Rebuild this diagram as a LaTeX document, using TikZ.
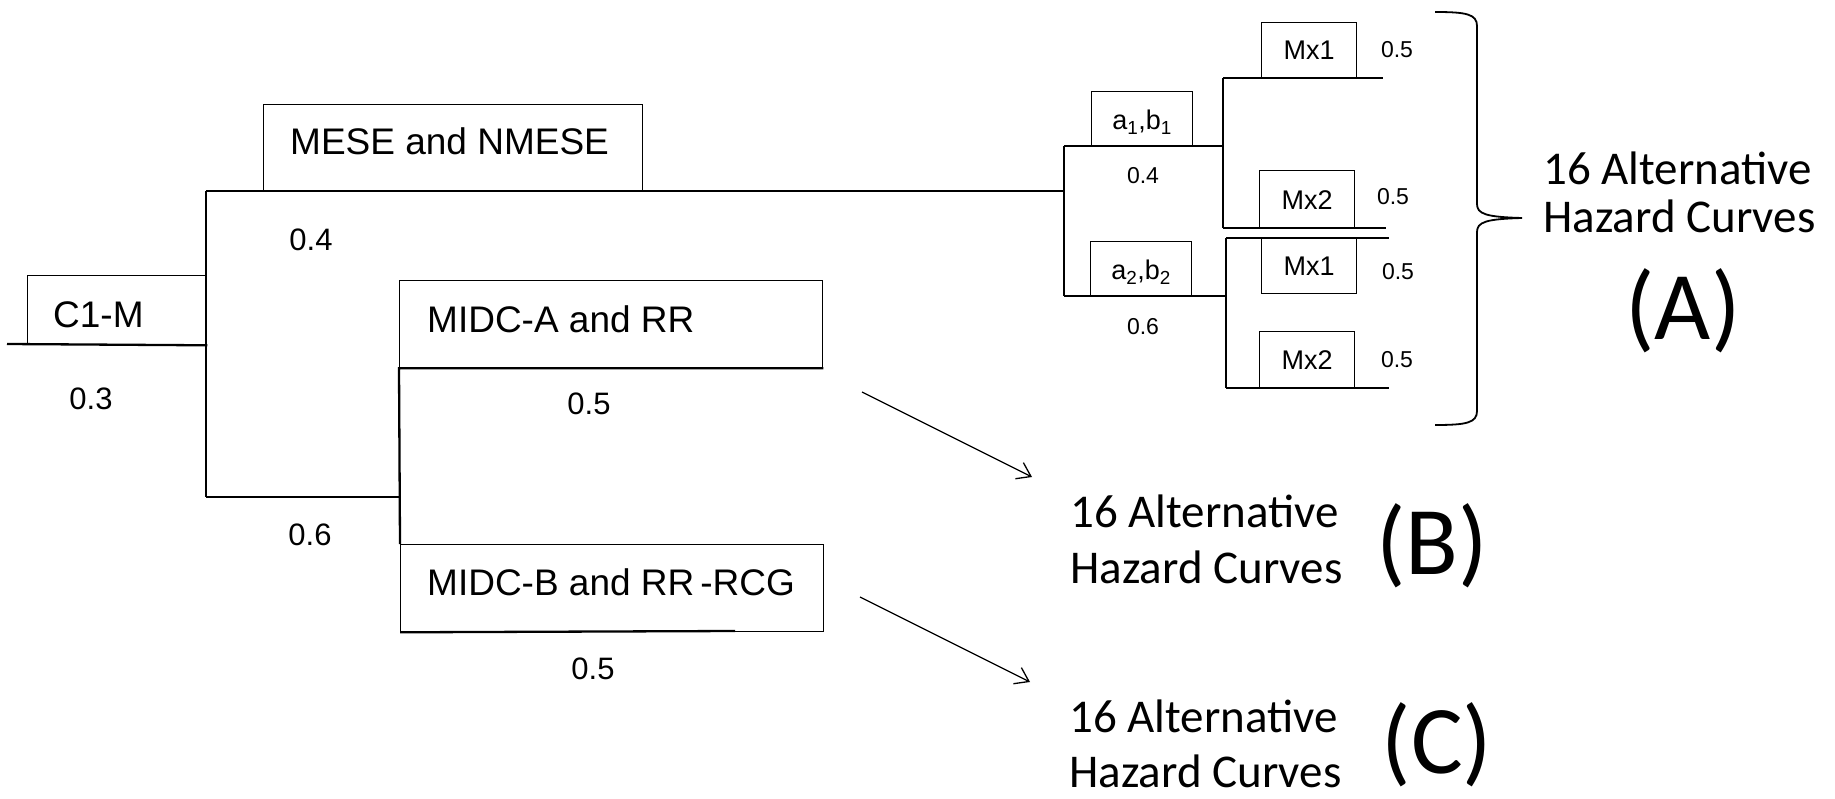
\documentclass[tikz,border=0pt]{standalone}
\usepackage{fontspec}
\setmainfont{Liberation Sans}
\newfontfamily\calib{Carlito}
\usetikzlibrary{arrows.meta}
\begin{document}
\begin{tikzpicture}[x=1pt,y=-1pt,
  box/.style={draw, line width=1.3pt, inner sep=0pt, anchor=north west},
  bigtxt/.style={anchor=base west, inner sep=0pt, font=\fontsize{37}{40}\selectfont},
  smalltxt/.style={inner sep=0pt, font=\fontsize{27}{30}\selectfont},
  prob/.style={inner sep=0pt, font=\fontsize{31}{33}\selectfont},
  sprob/.style={inner sep=0pt, font=\fontsize{23}{25}\selectfont},
  hz/.style={anchor=base west, inner sep=0pt, font=\calib\fontsize{47}{50}\selectfont},
  hzl/.style={inner sep=0pt, font=\calib\fontsize{97}{100}\selectfont},
  tree/.style={line width=2.3pt},
  arr/.style={line width=1.3pt, -{Straight Barb[length=13pt,width=18pt,line width=1.3pt]}},
  brace/.style={line width=1.8pt}]
\useasboundingbox (0,0) rectangle (1835,799);

% main boxes
\node[box, minimum width=179pt, minimum height=69pt] (c1m) at (27,275) {};
\node[box, minimum width=379pt, minimum height=87pt] (mese) at (263,104) {};
\node[box, minimum width=423pt, minimum height=87pt] (midca) at (399,280) {};
\node[box, minimum width=423pt, minimum height=87pt] (midcb) at (400,544) {};
\node[bigtxt] (tc1m) at (53,327) {C1-M};
\node[bigtxt] (tmese) at (290,155) {MESE and NMESE};
\node[bigtxt] (tmidca) at (427,332) {MIDC-A and RR};
\node[bigtxt] (tmidcb) at (427,595) {MIDC-B and RR\kern6pt-RCG};

% small boxes
\node[box, minimum width=101pt, minimum height=55pt] (ab1) at (1091,91) {};
\node[box, minimum width=101pt, minimum height=55pt] (ab2) at (1090,241) {};
\node[box, minimum width=95pt, minimum height=56pt] (mxa) at (1261,22) {};
\node[box, minimum width=95pt, minimum height=58pt] (mxb) at (1259,170) {};
\node[box, minimum width=95pt, minimum height=55pt] (mxc) at (1261,238) {};
\node[box, minimum width=95pt, minimum height=57pt] (mxd) at (1259,331) {};
\node[smalltxt] (tab1) at ([yshift=-3pt]ab1.center) {a\textsubscript{1},b\textsubscript{1}};
\node[smalltxt] (tab2) at ([yshift=-3pt]ab2.center) {a\textsubscript{2},b\textsubscript{2}};
\node[smalltxt] (tmxa) at (mxa.center) {Mx1};
\node[smalltxt] (tmxb) at (mxb.center) {Mx2};
\node[smalltxt] (tmxc) at (mxc.center) {Mx1};
\node[smalltxt] (tmxd) at (mxd.center) {Mx2};

% tree coordinates
\coordinate (root) at (7,344);
\coordinate (j1t) at (206,191);
\coordinate (j1b) at (206,497);
\coordinate (j2) at (399,497);
\coordinate (k1) at (1064,191);
\coordinate (k1t) at (1064,146);
\coordinate (k1b) at (1064,296);
\coordinate (e1) at (1223,146);
\coordinate (e2) at (1226,296);
\coordinate (u1) at (1223,78);
\coordinate (u2) at (1223,228);
\coordinate (u1e) at (1383,78);
\coordinate (u2e) at (1386,228);
\coordinate (l1) at (1226,238);
\coordinate (l2) at (1226,388);
\coordinate (l1e) at (1389,238);
\coordinate (l2e) at (1389,388);
\coordinate (mbe) at (735,631);

\draw[tree] (root) -- (c1m.south east);
\draw[tree] (j1t) -- (j1b);
\draw[tree] (j1t) -- (k1);
\draw[tree] (j1b) -- (j2);
\draw[tree] (midca.south east) -- (midca.south west) -- (midcb.north west);
\draw[tree] (midcb.south west) -- (mbe);
\draw[tree] (k1t) -- (k1b);
\draw[tree] (k1t) -- (e1);
\draw[tree] (k1b) -- (e2);
\draw[tree] (u1) -- (u2);
\draw[tree] (u1) -- (u1e);
\draw[tree] (u2) -- (u2e);
\draw[tree] (l1) -- (l2);
\draw[tree] (l1) -- (l1e);
\draw[tree] (l2) -- (l2e);

% probabilities
\node[prob] (p03) at (91,399) {0.3};
\node[prob] (p04) at (311,240) {0.4};
\node[prob] (p06) at (310,535) {0.6};
\node[prob] (p05a) at (589,404) {0.5};
\node[prob] (p05b) at (593,669) {0.5};
\node[sprob] (q04) at (1143,176) {0.4};
\node[sprob] (q06) at (1143,327) {0.6};
\node[sprob] (q1) at (1397,50) {0.5};
\node[sprob] (q2) at (1393,197) {0.5};
\node[sprob] (q3) at (1398,272) {0.5};
\node[sprob] (q4) at (1397,360) {0.5};

% brace
\draw[brace] (1435,12) .. controls (1466,12) and (1477,14) .. (1477,26) -- (1477,204)
  .. controls (1477,214) and (1486,217) .. (1522,218)
  .. controls (1486,219) and (1477,222) .. (1477,232) -- (1477,411)
  .. controls (1477,423) and (1466,425) .. (1435,425);

% hazard texts
\node[hz] (a1) at (1543,185) {16 Alternative};
\node[hz] (a2) at (1543,233) {Hazard Curves};
\node[hzl] (la) at (1683,311) {(A)};
\node[hz] (b1) at (1070,527) {16 Alternative};
\node[hz] (b2) at (1070,583) {Hazard Curves};
\node[hzl] (lb) at (1432,546) {(B)};
\node[hz] (c1) at (1069,732) {16 Alternative};
\node[hz] (c2) at (1069,787) {Hazard Curves};
\node[hzl] (lc) at (1437,745) {(C)};

% arrows
\coordinate (s1) at (862,392);
\coordinate (t1) at (1032,477);
\coordinate (s2) at (860,597);
\coordinate (t2) at (1030,682);
\draw[arr] (s1) -- (t1);
\draw[arr] (s2) -- (t2);
\end{tikzpicture}
\end{document}
